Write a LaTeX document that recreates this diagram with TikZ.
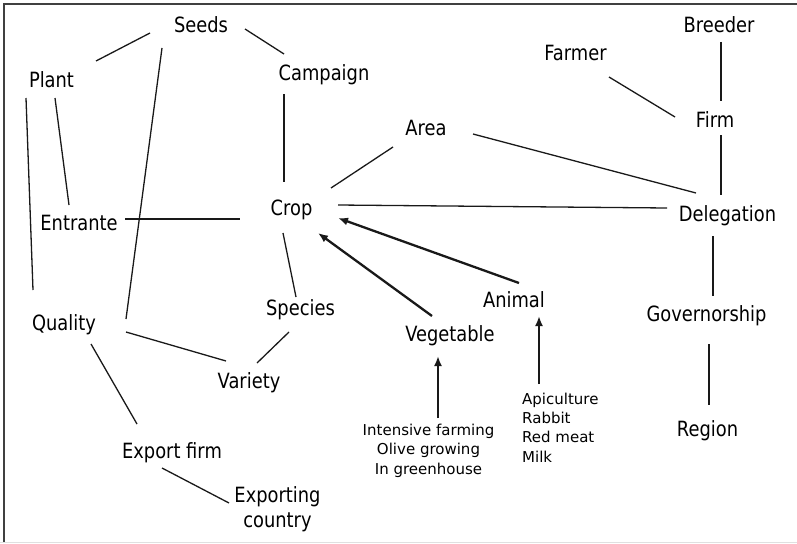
\documentclass[tikz,border=0pt]{standalone}
\usepackage{fontspec}
\setmainfont{DejaVu Sans}
\newfontfamily\lblfont[FakeStretch=0.85]{DejaVu Sans}
\usetikzlibrary{arrows.meta}
\begin{document}
\begin{tikzpicture}[x=1pt,y=-1pt,
  term/.style={anchor=base,inner sep=0pt,font=\lblfont\fontsize{21}{25}\selectfont},
  sub/.style={anchor=base,inner sep=0pt,font=\fontsize{15}{19.3}\selectfont},
  link/.style={line width=1.3pt,black!90},
  isa/.style={line width=2.3pt,black!90,-{Latex[length=10pt,width=8pt]}}]
\useasboundingbox (0,0) rectangle (797,543);
% frame
\draw[line width=1.5pt,black!75] (4,543) -- (4,4) -- (797,4);
\draw[line width=0.8pt,black!12] (0,542) -- (797,542);

% terms (multi-line nodes sit on the baseline of their last line)
\node[term] (seeds) at (201,33) {Seeds};
\node[term] (plant) at (51.5,87) {Plant};
\node[term] (campaign) at (324,80) {Campaign};
\node[term] (crop) at (291.5,215) {Crop};
\node[term] (entrante) at (79,230) {Entrante};
\node[term] (area) at (426,135) {Area};
\node[term] (breeder) at (719,33) {Breeder};
\node[term] (farmer) at (575.5,60) {Farmer};
\node[term] (firm) at (715,127) {Firm};
\node[term] (delegation) at (727.5,221) {Delegation};
\node[term] (governorship) at (706.5,321) {Governorship};
\node[term] (region) at (707.5,436) {Region};
\node[term] (animal) at (514,307) {Animal};
\node[term] (vegetable) at (450,341) {Vegetable};
\node[term] (species) at (300.5,315) {Species};
\node[term] (quality) at (64,330) {Quality};
\node[term] (variety) at (249,388) {Variety};
\node[term] (exportfirm) at (172,458) {Export firm};
\node[term,align=center] (exporting) at (277.5,527) {Exporting\\country};
\node[sub,align=center] (vegkinds) at (428.5,474) {Intensive farming\\Olive growing\\In greenhouse};
\node[sub,align=left,anchor=base west] (animkinds) at (522,462) {Apiculture\\Rabbit\\Red meat\\Milk};

% plain associations
\draw[link] ([shift={(-51,0)}]seeds.base) -- ([shift={(44.5,-26)}]plant.base);
\draw[link] ([shift={(44,-4)}]seeds.base) -- ([shift={(-40,-26)}]campaign.base);
\draw[link] ([shift={(-39,15)}]seeds.base) -- ([shift={(62,-11)}]quality.base);
\draw[link] ([shift={(-25.5,11)}]plant.base) -- ([shift={(-31,-40)}]quality.base);
\draw[link] ([shift={(3.5,11)}]plant.base) -- ([shift={(-10,-25)}]entrante.base);
\draw[link] ([shift={(-40,14)}]campaign.base) -- ([shift={(-7.5,-33)}]crop.base);
\draw[link] ([shift={(46,-11)}]entrante.base) -- ([shift={(-51.5,4)}]crop.base);
\draw[link] ([shift={(39.5,-27)}]crop.base) -- ([shift={(-33,12)}]area.base);
\draw[link] ([shift={(46.5,-10)}]crop.base) -- ([shift={(-60.5,-13)}]delegation.base);
\draw[link] ([shift={(47,-1)}]area.base) -- ([shift={(-31.5,-28)}]delegation.base);
\draw[link] ([shift={(33.5,17)}]farmer.base) -- ([shift={(-40,-10)}]firm.base);
\draw[link] ([shift={(2,9)}]breeder.base) -- ([shift={(6,-26)}]firm.base);
\draw[link] ([shift={(6,8)}]firm.base) -- ([shift={(-6.5,-26)}]delegation.base);
\draw[link] ([shift={(-14.5,15)}]delegation.base) -- ([shift={(6.5,-25)}]governorship.base);
\draw[link] ([shift={(2.5,23)}]governorship.base) -- ([shift={(1.5,-31)}]region.base);
\draw[link] ([shift={(-8.5,18)}]crop.base) -- ([shift={(-4.5,-18)}]species.base);
\draw[link] ([shift={(-11.5,17)}]species.base) -- ([shift={(8,-25)}]variety.base);
\draw[link] ([shift={(62,2)}]quality.base) -- ([shift={(-23,-27)}]variety.base);
\draw[link] ([shift={(27,14)}]quality.base) -- ([shift={(-35,-34)}]exportfirm.base);
\draw[link] ([shift={(-10,10)}]exportfirm.base) -- ([shift={(-48.5,-24)}]exporting.base);

% kind-of arrows
\draw[isa] ([shift={(-18,-25)}]vegetable.base) -- ([shift={(26.5,18)}]crop.base);
\draw[isa] ([shift={(5,-24)}]animal.base) -- ([shift={(46.5,3)}]crop.base);
\draw[isa] ([shift={(9.5,-56)}]vegkinds.base) -- ([shift={(-12,15)}]vegetable.base);
\draw[isa] ([shift={(17,-78)}]animkinds.base west) -- ([shift={(25,9)}]animal.base);
\end{tikzpicture}
\end{document}
